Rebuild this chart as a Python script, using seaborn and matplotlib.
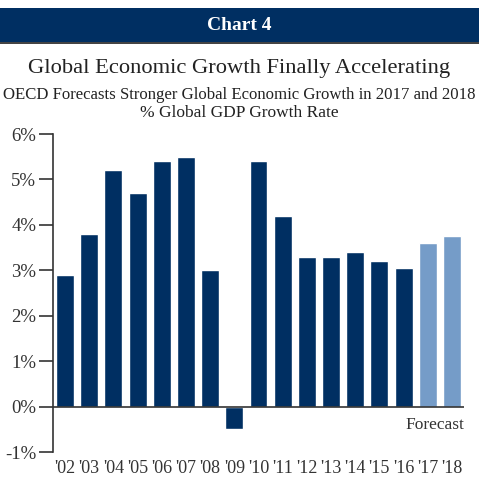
import matplotlib
matplotlib.use("Agg")
import matplotlib.pyplot as plt
import seaborn as sns
import pandas as pd
from matplotlib.patches import Rectangle

# data
years = ["'02", "'03", "'04", "'05", "'06", "'07", "'08", "'09", "'10",
         "'11", "'12", "'13", "'14", "'15", "'16", "'17", "'18"]
growth = [2.9, 3.8, 5.2, 4.7, 5.4, 5.5, 3.0, -0.5, 5.4,
          4.2, 3.3, 3.3, 3.4, 3.2, 3.05, 3.6, 3.75]
kind = ["Actual"] * 15 + ["Forecast"] * 2
y_ticks = [-1, 0, 1, 2, 3, 4, 5, 6]

NAVY = "#002F62"
LIGHT = "#759CC8"
TXT = "#333333"

sns.set_theme(style="white")
plt.rcParams["font.family"] = ["Liberation Serif", "DejaVu Serif"]

df = pd.DataFrame({"year": years, "growth": growth, "kind": kind})

fig = plt.figure(figsize=(4.79, 4.80), dpi=100)
ax = fig.add_axes([0.1106, 0.0583, 0.8581, 0.6625])

sns.barplot(data=df, x="year", y="growth", hue="kind",
            palette={"Actual": NAVY, "Forecast": LIGHT}, saturation=1,
            dodge=False, width=0.74, legend=False, ax=ax)

ax.set_xlim(-0.5, len(years) - 0.5)
ax.set_ylim(-1, 6)
ax.set_yticks(y_ticks)
ax.set_yticklabels([f"{v}%" for v in y_ticks], fontsize=13.5, color=TXT)
ax.tick_params(axis="y", length=10, width=1.2, color=TXT, pad=2, left=True)
ax.tick_params(axis="x", length=0, pad=6, labelsize=13, labelcolor=TXT)
ax.set_xlabel("")
ax.set_ylabel("")

for s in ["top", "right", "bottom"]:
    ax.spines[s].set_visible(False)
ax.spines["left"].set_color(TXT)
ax.spines["left"].set_linewidth(1.2)
ax.axhline(0, color=TXT, lw=1.2, zorder=3)

ax.text(1.0, -0.22, "Forecast", transform=ax.get_yaxis_transform(),
        ha="right", va="top", fontsize=12.5, color=TXT)

# header band
fig.patches.append(Rectangle((0, 1 - 43 / 480), 1, 35 / 480, transform=fig.transFigure,
                             facecolor=NAVY, edgecolor="none"))
fig.patches.append(Rectangle((0, 1 - 44 / 480), 1, 1.5 / 480, transform=fig.transFigure,
                             facecolor="#444444", edgecolor="none"))
fig.text(0.5, 1 - 26 / 480, "Chart 4", ha="center", va="center", color="white",
         fontsize=14, fontweight="bold")

fig.text(0.5, 1 - 68 / 480, "Global Economic Growth Finally Accelerating",
         ha="center", va="center", fontsize=16.2, color="#222222")
fig.text(0.5, 1 - 95 / 480, "OECD Forecasts Stronger Global Economic Growth in 2017 and 2018",
         ha="center", va="center", fontsize=12.1, color="#222222")
fig.text(0.5, 1 - 113 / 480, "% Global GDP Growth Rate",
         ha="center", va="center", fontsize=12.5, color="#222222")

fig.savefig("out.png", dpi=100)
